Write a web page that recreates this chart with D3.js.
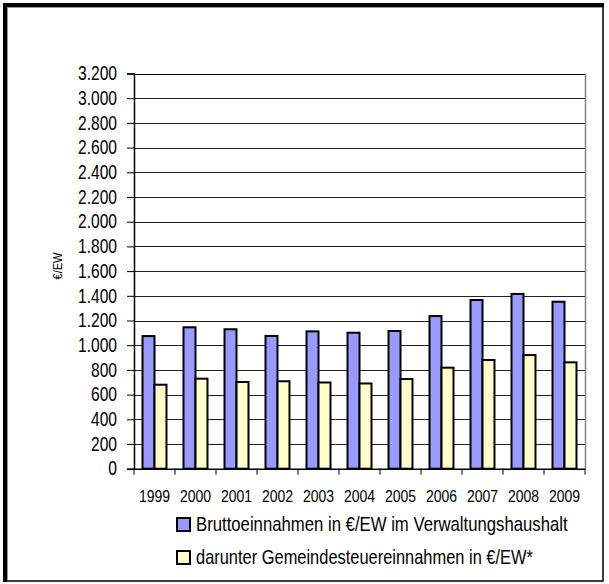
<!DOCTYPE html>
<html><head><meta charset="utf-8">
<script src="https://cdn.jsdelivr.net/npm/d3@7"></script>
<style>
html,body{margin:0;padding:0;background:#fff;}
svg{display:block;}
text{font-family:"Liberation Sans Narrow","Arial Narrow","Liberation Sans",Arial,sans-serif;fill:#000;}
</style></head>
<body>
<svg id="c" width="609" height="584"></svg>
<script>
const years = ["1999","2000","2001","2002","2003","2004","2005","2006","2007","2008","2009"];
const brutto = [1074,1145,1129,1075,1112,1101,1115,1236,1366,1415,1352];
const steuer = [680,729,702,708,698,690,726,818,880,920,861];
const yTicks = [0,200,400,600,800,1000,1200,1400,1600,1800,2000,2200,2400,2600,2800,3000,3200];
const seriesNames = ["Bruttoeinnahmen in €/EW im Verwaltungshaushalt","darunter Gemeindesteuereinnahmen in €/EW*"];
const seriesKeys = ["b","s"];
const seriesColors = ["#9999FF","#FFFFCC"];

const svg = d3.select("#c");

// outer frame
svg.append("rect").attr("x",5).attr("y",5).attr("width",598).attr("height",576)
  .attr("fill","none").attr("stroke","#000").attr("stroke-width",1.5);
svg.append("line").attr("x1",5).attr("x2",5).attr("y1",3).attr("y2",582).attr("stroke","#000").attr("stroke-width",4);
svg.append("line").attr("x1",3).attr("x2",604).attr("y1",5).attr("y2",5).attr("stroke","#000").attr("stroke-width",4);
svg.append("line").attr("x1",7.5).attr("x2",7.5).attr("y1",7).attr("y2",580).attr("stroke","#999").attr("stroke-width",1);
svg.append("line").attr("x1",7).attr("x2",602).attr("y1",7.5).attr("y2",7.5).attr("stroke","#999").attr("stroke-width",1);

const L=134, R=585, T=73.5, B=468.7;
const x = d3.scaleBand().domain(years).range([L,R]).padding(0);
const x1 = d3.scaleBand().domain(seriesKeys).range([0,x.bandwidth()]).paddingInner(0).paddingOuter(0.71);
const y = d3.scaleLinear().domain([0,3200]).range([B,T]);

// gridlines
svg.append("g").selectAll("line").data(yTicks.filter(d=>d>0)).join("line")
  .attr("x1",L).attr("x2",R).attr("y1",d=>Math.round(y(d))+0.5).attr("y2",d=>Math.round(y(d))+0.5)
  .attr("stroke",d=>d===3200?"#000":"#222").attr("stroke-width",1);
// right border
svg.append("line").attr("x1",R+0.5).attr("x2",R+0.5).attr("y1",T).attr("y2",B).attr("stroke","#808080").attr("stroke-width",1.5);

// bars
const data = years.map((yr,i)=>({yr, vals:[{k:"b",v:brutto[i],c:seriesColors[0]},{k:"s",v:steuer[i],c:seriesColors[1]}]}));
const g = svg.append("g").selectAll("g").data(data).join("g").attr("transform",d=>`translate(${x(d.yr)},0)`);
g.selectAll("rect").data(d=>d.vals).join("rect")
  .attr("x",d=>x1(d.k)).attr("width",x1.bandwidth())
  .attr("y",d=>y(d.v)).attr("height",d=>B-y(d.v))
  .attr("fill",d=>d.c).attr("stroke","#000").attr("stroke-width",2);

// y axis
const yAxis = d3.axisLeft(y).tickValues(yTicks).tickSize(7).tickPadding(10)
  .tickFormat(d=>d3.format(",")(d).replace(/,/g,"."));
const ya = svg.append("g").attr("transform",`translate(${L},0)`).call(yAxis);
ya.select(".domain").attr("stroke","#000").attr("stroke-width",1.5);
ya.selectAll(".tick line").attr("stroke","#000");
ya.selectAll("text").style("font-size","19.5px").attr("fill","#000")
  .attr("x",0).attr("transform","translate(-17,0) scale(0.8,1)");

// x axis
const xAxis = d3.axisBottom(x).tickSize(0).tickPadding(22);
const xa = svg.append("g").attr("transform",`translate(0,${B})`).call(xAxis);
xa.select(".domain").attr("stroke","#000").attr("stroke-width",1.5);
xa.selectAll("text").style("font-size","16.3px").attr("fill","#000").attr("transform","scale(0.86,1)");
// boundary ticks
svg.append("g").selectAll("line").data(years.concat(["end"])).join("line")
  .attr("x1",(d,i)=>L+i*x.step()).attr("x2",(d,i)=>L+i*x.step())
  .attr("y1",B).attr("y2",B+6).attr("stroke","#000").attr("stroke-width",1);

// y title
svg.append("text").attr("transform","translate(62,266) rotate(-90) scale(0.85,1)").attr("text-anchor","middle")
  .style("font-size","13px").text("€/EW");

// legend
const legTargets = [372,337];
const leg = svg.append("g").selectAll("g").data(seriesNames).join("g")
  .attr("transform",(d,i)=>`translate(177,${518+i*33})`);
leg.append("rect").attr("x",0).attr("y",0).attr("width",13).attr("height",13)
  .attr("fill",(d,i)=>seriesColors[i]).attr("stroke","#000").attr("stroke-width",2);
leg.append("text").style("font-size","20px").text(d=>d)
  .each(function(d,i){
    const n = this.getComputedTextLength();
    d3.select(this).attr("transform",`translate(19,12.5) scale(${legTargets[i]/n},1)`);
  });
</script>
</body></html>
